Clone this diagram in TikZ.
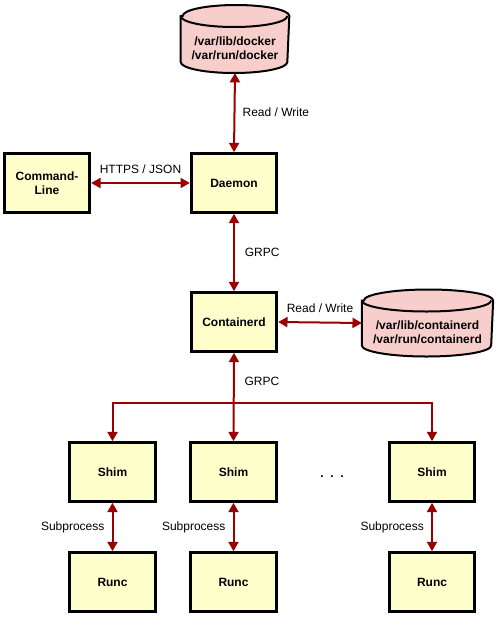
\documentclass[tikz,border=0pt]{standalone}
\usepackage{fontspec}
\setmainfont{Liberation Sans}
\usepackage{tikz}
\usetikzlibrary{arrows.meta}
\definecolor{boxfill}{HTML}{FFFFCC}
\definecolor{storefill}{HTML}{F8CECC}
\definecolor{linkred}{HTML}{990000}
\tikzset{
    box/.style={shape=rectangle, draw=black, line width=2.25pt, fill=boxfill,
        minimum width=64pt, minimum height=44pt, font=\bfseries\fontsize{9}{10.5}\selectfont, align=center},
    storebox/.style={shape=rectangle, inner sep=0pt, outer sep=0.75pt},
    storeline/.style={draw=black, line width=1.5pt, fill=storefill},
    storetext/.style={font=\bfseries\fontsize{9}{10.5}\selectfont, align=center},
    link/.style={draw=linkred, line width=1.5pt, arrows={-Triangle[length=7pt,width=7.5pt]}},
    both/.style={link, arrows={Triangle[length=7pt,width=7.5pt]-Triangle[length=7pt,width=7.5pt]}},
    lbl/.style={font=\fontsize{9}{10.5}\selectfont, text=black}}
% cylinder round a named node: #1 node, #2 half width
\newcommand{\drawstore}[2]{%
    \path[storeline] ([yshift=-8.25pt]#1.north west) -- ([yshift=8.25pt]#1.south west)
        arc[start angle=180, end angle=360, x radius=#2, y radius=8.25pt]
        -- ([yshift=-8.25pt]#1.north east)
        arc[start angle=0, end angle=180, x radius=#2, y radius=8.25pt] -- cycle;
    \draw[line width=1.5pt] ([yshift=-8.25pt]#1.north west)
        arc[start angle=180, end angle=360, x radius=#2, y radius=8.25pt];}

\begin{document}
\begin{tikzpicture}[x=0.75pt, y=-0.75pt]

            \useasboundingbox (0,0) rectangle (498,636);

            \node[storebox, minimum width=80pt, minimum height=49.5pt] (docker) at (235,39) {};
            \node[box] (cli) at (47,183) {Command-\\Line};
            \node[box] (daemon) at (234,183) {Daemon};
            \node[box] (containerd) at (234,322) {Containerd};
            \node[storebox, minimum width=97pt, minimum height=48.75pt] (cstore) at (427.5,323) {};

            \node[box] (shim1) at (112.5,472) {Shim};
            \node[box] (shim2) at (233.5,472) {Shim};
            \node[box] (shim3) at (432,472) {Shim};
            \node[box] (runc1) at (112.5,582) {Runc};
            \node[box] (runc2) at (233.5,582) {Runc};
            \node[box] (runc3) at (432,582) {Runc};
            \node[lbl, font=\bfseries\fontsize{9}{10.5}\selectfont] (dots) at (332,477) {.\hspace{5pt}.\hspace{5pt}.};

            \drawstore{docker}{40pt}
            \drawstore{cstore}{48.5pt}
            \node[storetext] (dockertext) at (235,48) {/var/lib/docker\\/var/run/docker};
            \node[storetext] (cstoretext) at (427.5,332) {/var/lib/containerd\\/var/run/containerd};

            \coordinate (bus) at (233.5,403);

            \draw[both] (docker.south) -- (daemon.north) node[lbl, midway, right, xshift=2pt] {Read / Write};
            \draw[both] (cli.east) -- (daemon.west) node[lbl, midway, above, yshift=3pt] {HTTPS / JSON};
            \draw[both] (daemon.south) -- (containerd.north) node[lbl, midway, right, xshift=4pt] {GRPC};
            \draw[both] (containerd.east) -- (cstore.west) node[lbl, midway, above, yshift=3pt] {Read / Write};
            \draw[both] (containerd.south) -- (shim2.north) node[lbl, pos=0.32, right, xshift=4pt] {GRPC};
            \draw[link] (bus) -| (shim1.north);
            \draw[link] (bus) -| (shim3.north);

            \draw[both] (shim1.south) -- (runc1.north) node[lbl, midway, left, xshift=-2pt] {Subprocess};
            \draw[both] (shim2.south) -- (runc2.north) node[lbl, midway, left, xshift=-2pt] {Subprocess};
            \draw[both] (shim3.south) -- (runc3.north) node[lbl, midway, left, xshift=-2pt] {Subprocess};

        \end{tikzpicture}
\end{document}
